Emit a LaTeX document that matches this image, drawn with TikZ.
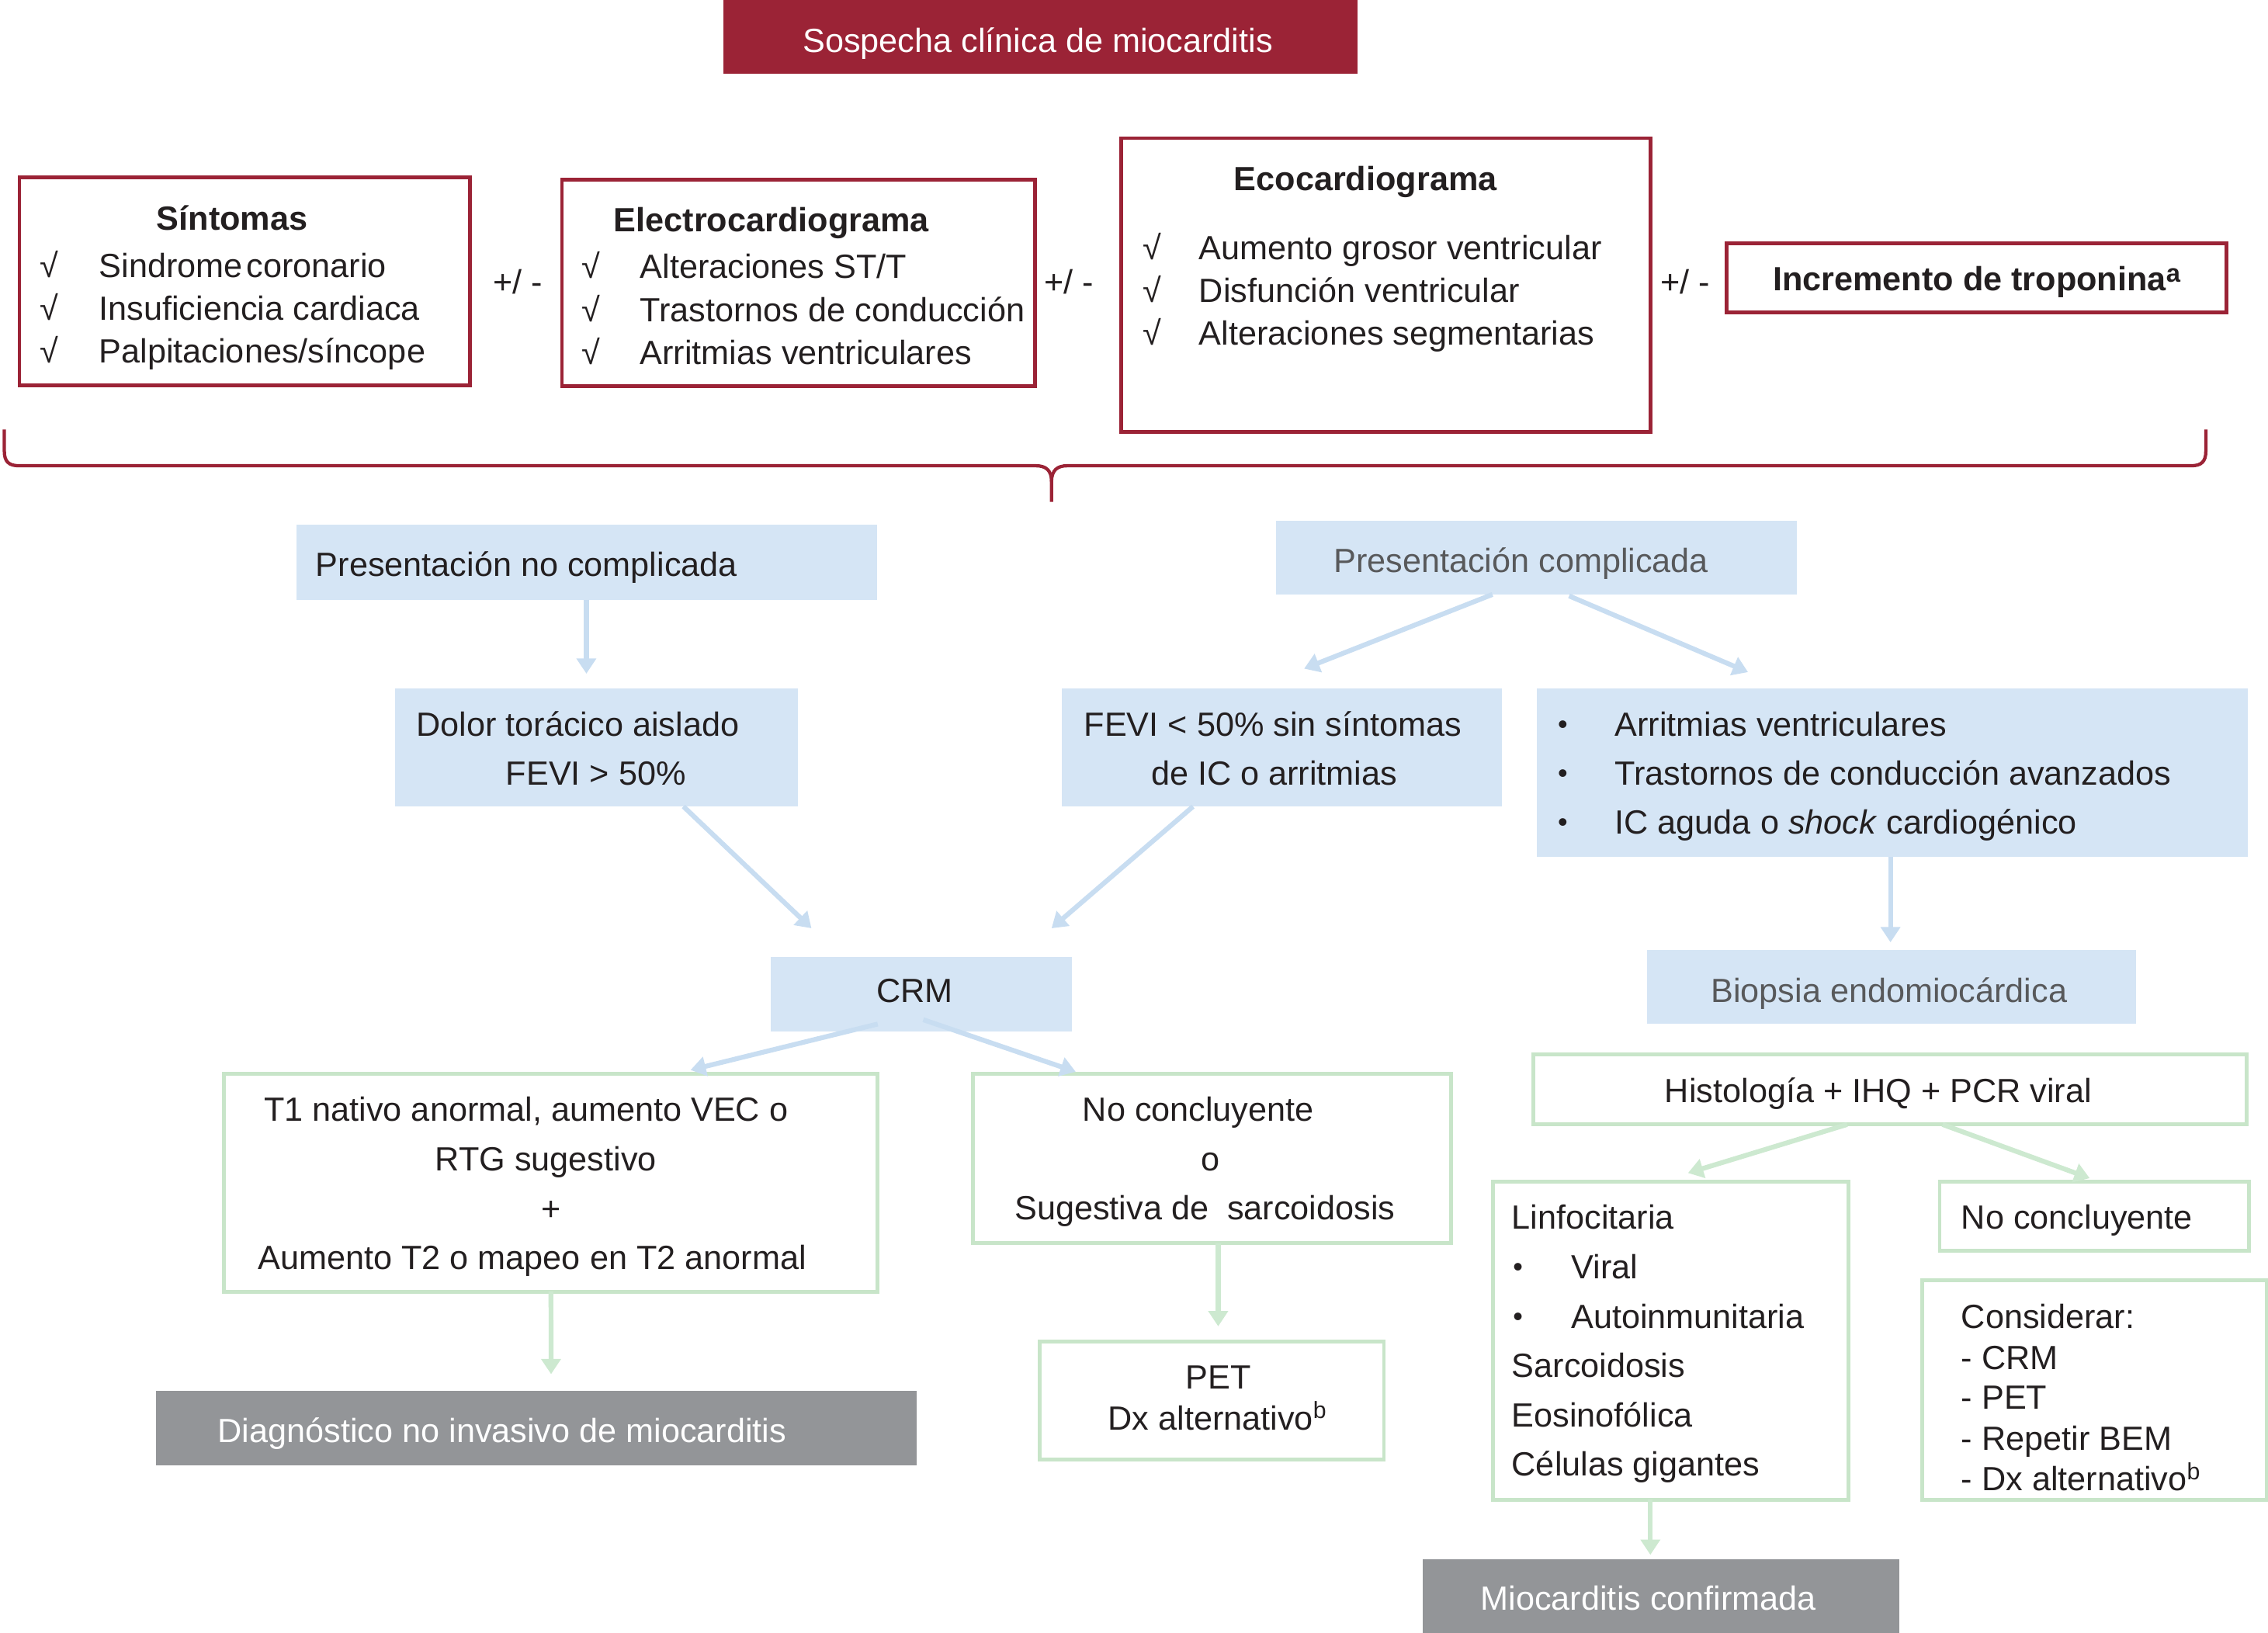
\documentclass[tikz,border=0pt]{standalone}
\usepackage{fontspec}
\setmainfont{Liberation Sans}
\usetikzlibrary{arrows.meta,calc}
\definecolor{dred}{RGB}{155,35,54}
\definecolor{lblue}{RGB}{213,229,245}
\definecolor{ablue}{RGB}{200,221,241}
\definecolor{lgreen}{RGB}{200,229,201}
\definecolor{agreen}{RGB}{205,233,208}
\definecolor{dgray}{RGB}{147,149,152}
\definecolor{txt}{RGB}{35,31,32}
\definecolor{gtxt}{RGB}{88,89,91}
\newcommand{\smbul}{\raisebox{0.9pt}{\fontsize{11}{11}\selectfont •}}
\begin{document}
\begin{tikzpicture}[x=0.02cm,y=-0.02cm,
  every node/.style={inner sep=0pt, outer sep=0pt, text=txt, font=\fontsize{13.2}{17}\selectfont},
  bx/.style 2 args={rectangle, minimum width=#1*0.02cm, minimum height=#2*0.02cm},
  redbox/.style={draw=dred, line width=1.5pt},
  bluebox/.style={fill=lblue},
  greenbox/.style={draw=lgreen, line width=1.5pt},
  graybox/.style={fill=dgray},
  titlebox/.style={fill=dred},
  tl/.style={anchor=base west},
  tc/.style={anchor=base},
  barr/.style={draw=ablue, line width=1.9pt, -{Triangle[length=6pt,width=7.5pt]}},
  garr/.style={draw=agreen, line width=1.9pt, -{Triangle[length=6pt,width=7.5pt]}},
  brace/.style={draw=dred, line width=1.3pt, line join=round}
]
\useasboundingbox (0,0) rectangle (1568,1129);

% ---------- top row ----------
\node[titlebox, bx={438.6}{51}] (title) at (719.3,25.5) {};
\node[tc, text=white] (titlet) at (717.5,36) {Sospecha clínica de miocarditis};

\node[redbox, bx={311.6}{143.6}] (sint) at (169.2,194.5) {};
\node[tc] (sint0) at (160.5,159) {\bfseries Síntomas};
\node[tl] (sintc1) at (27.4,191.7) {√};
\node[tl] (sintc2) at (27.4,221.4) {√};
\node[tl] (sintc3) at (27.4,251) {√};
\node[tl] (sint1) at (68.5,191.7) {Sindrome\hspace{0.12em}coronario};
\node[tl] (sint2) at (68.5,221.4) {Insuficiencia cardiaca};
\node[tl] (sint3) at (68.5,251) {Palpitaciones/síncope};

\node[tc] (pm1) at (358,203) {+/ -};

\node[redbox, bx={327}{143}] (ecg) at (552,195.5) {};
\node[tl] (ecg0) at (424.4,160) {\bfseries Electrocardiograma};
\node[tl] (ecgc1) at (402,192.6) {√};
\node[tl] (ecgc2) at (402,222.3) {√};
\node[tl] (ecgc3) at (402,252) {√};
\node[tl] (ecg1) at (442.5,192.6) {Alteraciones ST/T};
\node[tl] (ecg2) at (442.5,222.3) {Trastornos de conducción};
\node[tl] (ecg3) at (442.5,252) {Arritmias ventriculares};

\node[tc] (pm2) at (739,203) {+/ -};

\node[redbox, bx={366}{203}] (eco) at (958,197) {};
\node[tc] (eco0) at (944,131.9) {\bfseries Ecocardiograma};
\node[tl] (ecoc1) at (790,179.6) {√};
\node[tl] (ecoc2) at (790,208.9) {√};
\node[tl] (ecoc3) at (790,238.6) {√};
\node[tl] (eco1) at (829,179.6) {Aumento grosor ventricular};
\node[tl] (eco2) at (829,208.9) {Disfunción ventricular};
\node[tl] (eco3) at (829,238.6) {Alteraciones segmentarias};

\node[tc] (pm3) at (1165,203) {+/ -};

\node[redbox, bx={346}{48}] (trop) at (1366.5,192) {};
\node[tc] (tropt) at (1366.5,201) {\bfseries Incremento de troponina\raisebox{0.5ex}{\fontsize{10}{10}\selectfont a}};

% ---------- brace ----------
\draw[brace] (3,297) -- (3,312) .. controls (3,319) and (6,322) .. (13,322) -- (716,322)
  .. controls (723,322) and (727,325) .. (727,333) -- (727,347);
\draw[brace] (1525,297) -- (1525,312) .. controls (1525,319) and (1522,322) .. (1515,322) -- (738,322)
  .. controls (731,322) and (727,325) .. (727,333);

% ---------- second level ----------
\node[bluebox, bx={401.4}{51.8}] (pn) at (405.7,388.7) {};
\node[tl] (pnt) at (218.4,398.7) {Presentación no complicada};

\node[bluebox, bx={360.3}{51}] (pc) at (1062.2,385.5) {};
\node[tc, text=gtxt] (pct) at (1051.6,395.5) {Presentación complicada};

\node[bluebox, bx={278.5}{81.6}] (dolor) at (412.25,516.8) {};
\node[tc] (dolor1) at (399.5,509) {Dolor torácico aislado};
\node[tc] (dolor2) at (412,542.6) {FEVI > 50\%};

\node[bluebox, bx={304.6}{81.6}] (fevi) at (886.3,516.8) {};
\node[tc] (fevi1) at (880,509) {FEVI < 50\% sin síntomas};
\node[tc] (fevi2) at (881,542.6) {de IC o arritmias};

\node[bluebox, bx={491.7}{116.2}] (bul) at (1308.2,534.1) {};
\node[tl] (bulb1) at (1077,509) {\smbul};
\node[tl] (bulb2) at (1077,542.6) {\smbul};
\node[tl] (bulb3) at (1077,576.8) {\smbul};
\node[tl] (bul1) at (1116.5,509) {Arritmias ventriculares};
\node[tl] (bul2) at (1116.5,542.6) {Trastornos de conducción avanzados};
\node[tl] (bul3) at (1116.5,576.8) {IC aguda o \textit{shock} cardiogénico};

\node[bluebox, bx={208}{52}] (crm) at (637,687.4) {};
\node[tc] (crmt) at (632.5,693) {CRM};

\node[bluebox, bx={338.2}{51}] (bio) at (1307.8,682.5) {};
\node[tc, text=gtxt] (biot) at (1306,693) {Biopsia endomiocárdica};

% ---------- third level ----------
\node[greenbox, bx={451.8}{150.8}] (t1) at (380.9,817.6) {};
\node[tc] (t1a) at (363.7,775.2) {T1 nativo anormal, aumento VEC o};
\node[tc] (t1b) at (377.4,809.3) {RTG sugestivo};
\node[tc] (t1c) at (381,844) {+};
\node[tc] (t1d) at (367.9,877.5) {Aumento T2 o mapeo en T2 anormal};

\node[greenbox, bx={330.7}{117.4}] (noc) at (837.8,800.9) {};
\node[tc] (noca) at (828.4,775.2) {No concluyente};
\node[tc] (nocb) at (837,809.3) {o};
\node[tc] (nocc) at (833,843.5) {Sugestiva de\ \ sarcoidosis};

\node[graybox, bx={525.7}{51.2}] (diag) at (370.7,987.3) {};
\node[tl, text=white] (diagt) at (150.6,997.3) {Diagnóstico no invasivo de miocarditis};

\node[greenbox, bx={237.8}{82}] (pet) at (837.9,968.3) {};
\node[tc] (peta) at (842.2,960) {PET};
\node[tc] (petb) at (842,988.5) {Dx alternativo\textsuperscript{b}};

\node[greenbox, bx={493}{48.5}] (histo) at (1306.5,753.2) {};
\node[tc] (histot) at (1298.6,762.3) {Histología + IHQ + PCR viral};

\node[greenbox, bx={246}{220}] (linfo) at (1155,927) {};
\node[tl] (linfo1) at (1045.2,849.8) {Linfocitaria};
\node[tl] (linfob1) at (1046,884.2) {\smbul};
\node[tl] (linfob2) at (1046,918.3) {\smbul};
\node[tl] (linfo2) at (1086.3,884.2) {Viral};
\node[tl] (linfo3) at (1086.3,918.3) {Autoinmunitaria};
\node[tl] (linfo4) at (1045.2,952) {Sarcoidosis};
\node[tl] (linfo5) at (1045.2,986.6) {Eosinofólica};
\node[tl] (linfo6) at (1045.2,1020.2) {Células gigantes};

\node[greenbox, bx={214}{47.6}] (noc2) at (1448,840.8) {};
\node[tl] (noc2t) at (1356,849.8) {No concluyente};

\node[greenbox, bx={238}{152}] (cons) at (1448,961) {};
\node[tl] (cons1) at (1356,918.3) {Considerar:};
\node[tl] (cons2) at (1356,946.7) {- CRM};
\node[tl] (cons3) at (1356,974.2) {- PET};
\node[tl] (cons4) at (1356,1002.5) {- Repetir BEM};
\node[tl] (cons5) at (1356,1030.6) {- Dx alternativo\textsuperscript{b}};

\node[graybox, bx={329.4}{57}] (mioc) at (1148.3,1106.5) {};
\node[tc, text=white] (mioct) at (1139.7,1113) {Miocarditis confirmada};

% ---------- blue arrows ----------
\draw[barr] ($(pn.south)+(-0.3,0)$) -- ($(dolor.north)+(-6.85,-10.2)$);
\draw[barr] ($(pc.south)+(-30.4,0)$) -- ($(fevi.north)+(15.3,-13.7)$);
\draw[barr] ($(pc.south)+(22.6,1)$) -- ($(bul.north)+(-99.7,-11.3)$);
\draw[barr] ($(dolor.south)+(60.25,0)$) -- ($(crm.north)+(-76,-19.6)$);
\draw[barr] ($(fevi.south)+(-61.5,0)$) -- ($(crm.north)+(90,-19.6)$);
\draw[barr] ($(bul.south)+(-1.2,0)$) -- ($(bio.north)+(-0.8,-5.5)$);
\draw[barr] ($(crm.south)+(-30.2,-5.4)$) -- ($(t1.north)+(96.5,-2.4)$);
\draw[barr] ($(crm.south)+(1.3,-8.4)$) -- ($(noc.north)+(-94.1,-1.2)$);

% ---------- green arrows ----------
\draw[garr] (t1.south) -- ($(diag.north)+(10.3,-11.6)$);
\draw[garr] ($(noc.south)+(4.4,0)$) -- ($(pet.north)+(4.3,-10.3)$);
\draw[garr] ($(histo.south)+(-29.5,0)$) -- ($(linfo.north)+(12,-6)$);
\draw[garr] ($(histo.south)+(36.5,0)$) -- ($(noc2.north)+(-3.3,-2.4)$);
\draw[garr] ($(linfo.south)+(-14,0)$) -- ($(mioc.north)+(-7.3,-3)$);
\end{tikzpicture}
\end{document}
